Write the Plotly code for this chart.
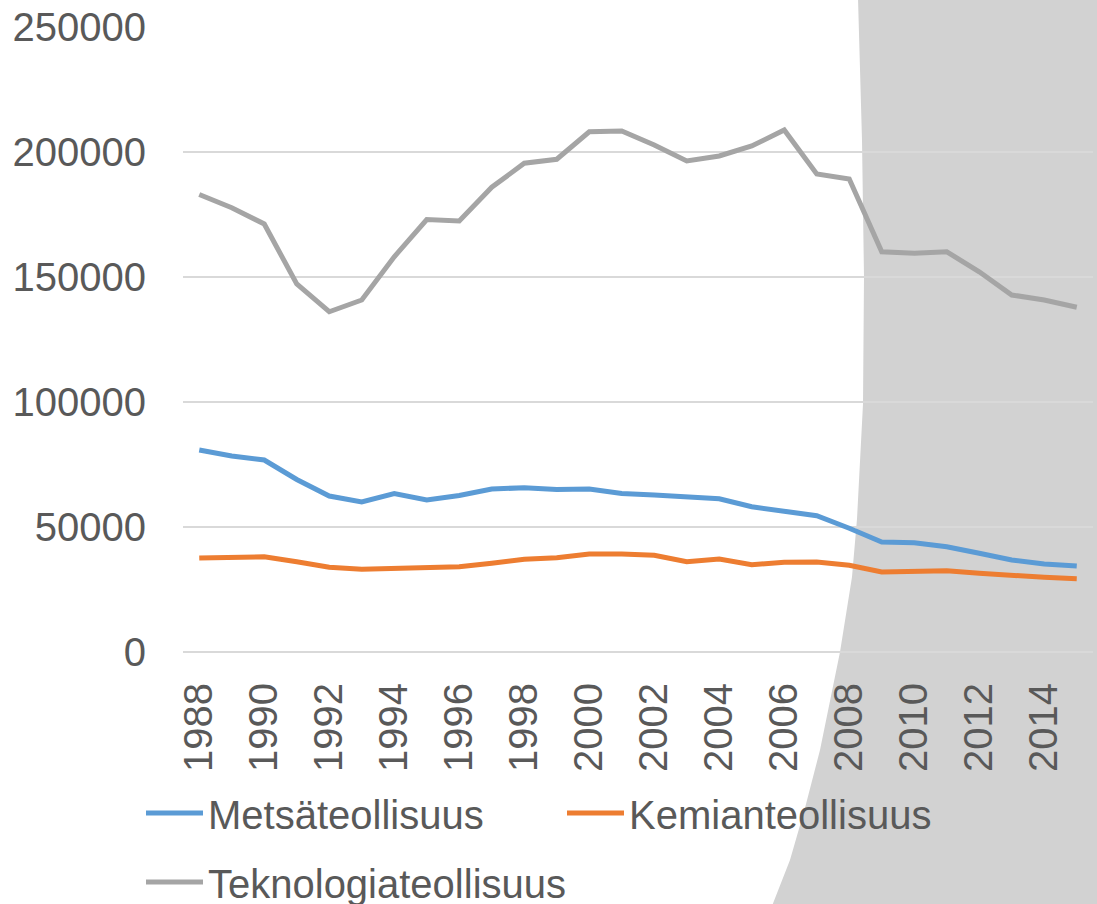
import plotly.graph_objects as go

years = list(range(1988, 2016))
metsa = [80800, 78400, 76800, 69000, 62400, 60000, 63400, 60800, 62600, 65200,
         65700, 65000, 65200, 63400, 62800, 62100, 61300, 58100, 56500, 54500,
         49500, 44000, 43700, 42100, 39500, 36800, 35200, 34400]
kemia = [37600, 38100, 38100, 36100, 33900, 33100, 33600, 33900, 34100, 35500,
         37100, 37700, 39200, 39200, 38700, 36100, 37200, 34900, 35900, 36000,
         34700, 32000, 32000, 32500, 31500, 30500, 29900, 29300]
tekno = [183000, 177700, 171200, 147200, 136100, 140800, 158100, 173000, 172400, 185900,
         195500, 197100, 208100, 208400, 202800, 196400, 198400, 202400, 208800, 191200,
         189200, 160100, 159500, 160100, 152100, 142800, 140800, 137900]
series_names = ["Metsäteollisuus", "Kemianteollisuus", "Teknologiateollisuus"]
series_colors = ["#5B9BD5", "#ED7D31", "#A5A5A5"]
xtick_vals = list(range(1988, 2016, 2))

W, H = 1097, 904
L, R, T, B = 183, 4, 27, 252
pw, ph = W - L - R, H - T - B


def px2paper(px, py):
    return (px - L) / pw, (H - B - py) / ph


font_fam = "Liberation Sans, Arial, sans-serif"
txt_col = "#595959"

fig = go.Figure()
legends = ["legend", "legend", "legend2"]
for name, vals, col, lg in zip(series_names, [metsa, kemia, tekno], series_colors, legends):
    fig.add_trace(go.Scatter(x=years, y=vals, name=name, mode="lines",
                             line=dict(color=col, width=5), legend=lg))

# background curved gray region (decoration)
edge = [(858, -2), (862, 140), (864, 277), (863, 404), (857, 519), (852, 577),
        (840, 652), (820, 750), (805, 808), (790, 860), (772, 906)]
pts = [px2paper(x, y) for x, y in edge]
path = "M {:.5f},{:.5f} ".format(*pts[0])
for p in pts[1:]:
    path += "L {:.5f},{:.5f} ".format(*p)
c1 = px2paper(W + 2, 906)
c2 = px2paper(W + 2, -2)
path += "L {:.5f},{:.5f} L {:.5f},{:.5f} Z".format(*c1, *c2)
fig.add_shape(type="path", path=path, xref="paper", yref="paper",
              fillcolor="#D2D2D2", line=dict(width=0), layer="below")

leg_common = dict(orientation="h", bgcolor="rgba(0,0,0,0)",
                  font=dict(family=font_fam, size=40, color=txt_col),
                  itemwidth=57, yanchor="middle", xanchor="left")
lx1, ly1 = px2paper(141, 813)
_, ly3 = px2paper(141, 882)

fig.update_layout(
    width=W, height=H, autosize=False,
    margin=dict(l=L, r=R, t=T, b=B, autoexpand=False),
    paper_bgcolor="white", plot_bgcolor="rgba(0,0,0,0)",
    font=dict(family=font_fam, size=40, color=txt_col),
    legend=dict(x=lx1, y=ly1, entrywidth=349, entrywidthmode="pixels", **leg_common),
    legend2=dict(x=lx1, y=ly3, **leg_common),
    xaxis=dict(range=[1987.5, 2015.5], tickvals=xtick_vals, tickangle=-90,
               showgrid=False, zeroline=False, showline=False, ticks="",
               ticklabelstandoff=22, tickfont=dict(size=40, color=txt_col)),
    yaxis=dict(range=[0, 250000], dtick=50000, tickformat="d",
               showgrid=True, gridcolor="#D9D9D9", gridwidth=1.5,
               zeroline=True, zerolinecolor="#D9D9D9", zerolinewidth=1.5,
               showline=False, ticks="", ticklabelstandoff=36,
               tickfont=dict(size=40, color=txt_col)),
)

fig.write_html("out.html", config={"displayModeBar": False},
               post_script="document.body.style.margin='0';document.body.style.overflow='hidden';")
